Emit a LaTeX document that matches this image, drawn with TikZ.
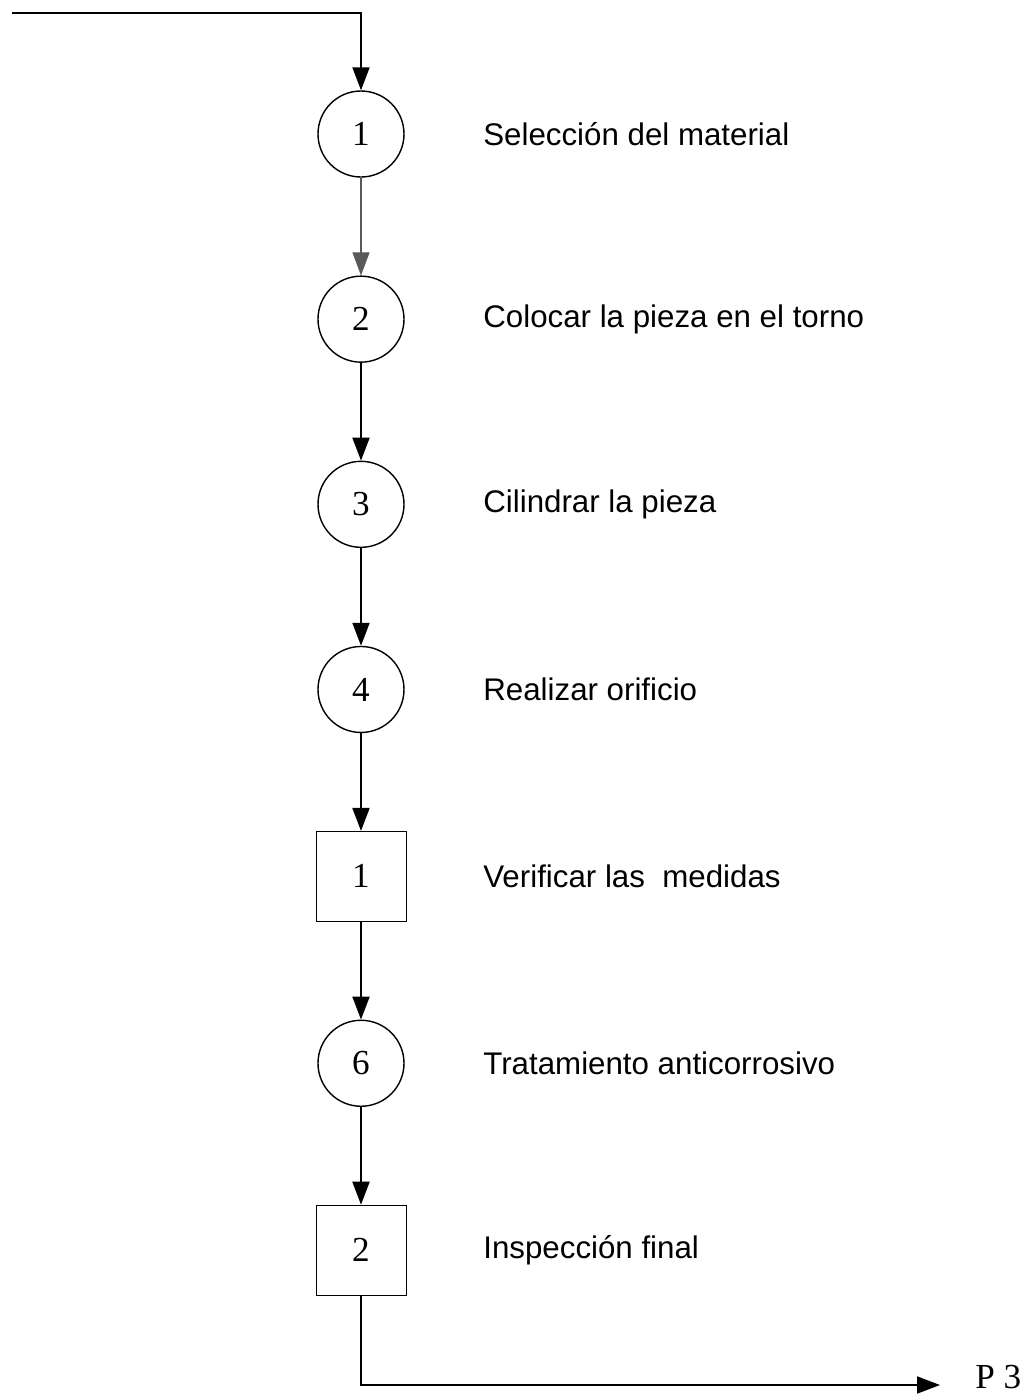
\documentclass[tikz,border=0pt]{standalone}
\usepackage{fontspec}
\setmainfont{Liberation Serif}
\newfontfamily\labelfont{Liberation Sans}
\usetikzlibrary{positioning,arrows.meta}

\tikzset{
  op/.style={draw,circle,line width=0.8pt,minimum size=1.72cm,inner sep=0pt,font=\fontsize{20}{20}\selectfont},
  insp/.style={draw,rectangle,line width=0.5pt,minimum size=1.8cm,inner sep=0pt,font=\fontsize{20}{20}\selectfont},
  flow/.style={line width=1.1pt,-{Triangle[length=0.46cm,width=0.34cm]}},
  desc/.style={anchor=west,inner sep=0pt,font=\labelfont\fontsize{17.8}{18}\selectfont}
}

\begin{document}
\begin{tikzpicture}[node distance=1.955cm]
  \useasboundingbox (0,0) rectangle (20.72,-27.9);

  \node[op] (o1) at (7.22,-2.68) {1};
  \node[op,below=of o1] (o2) {2};
  \node[op,below=of o2] (o3) {3};
  \node[op,below=of o3] (o4) {4};
  \node[insp,below=of o4] (i1) {1};
  \node[op,below=of i1] (o6) {6};
  \node[insp,below=of o6] (i2) {2};

  \foreach \n/\t in {o1/Selección del material,o2/Colocar la pieza en el torno,
      o3/Cilindrar la pieza,o4/Realizar orificio,i1/Verificar las\ \ medidas,
      o6/Tratamiento anticorrosivo,i2/Inspección final} {
    \node[desc] (l-\n) at ([xshift=2.44cm]\n.center) {\t};
  }

  \coordinate (start) at (0.24,-0.26);
  \coordinate (end) at (18.8,-27.7);
  \node[anchor=west,inner sep=0pt,font=\fontsize{20}{20}\selectfont] (p3) at (19.5,-27.55) {P 3};

  \draw[flow] (start) -| (o1.north);
  \draw[flow,line width=0.6pt,gray!70!black] (o1) -- (o2);
  \draw[flow] (o2) -- (o3);
  \draw[flow] (o3) -- (o4);
  \draw[flow] (o4) -- (i1);
  \draw[flow] (i1) -- (o6);
  \draw[flow] (o6) -- (i2);
  \draw[flow] (i2.south) |- (end);
\end{tikzpicture}
\end{document}
